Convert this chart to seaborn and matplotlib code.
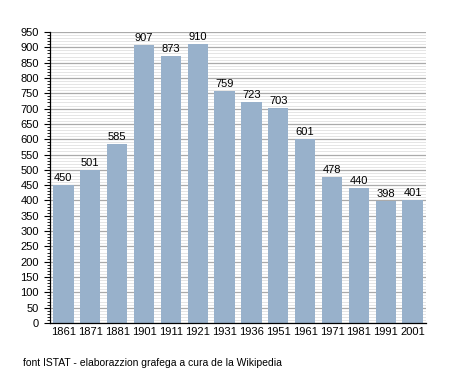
import matplotlib
matplotlib.use("Agg")
import matplotlib.pyplot as plt
import seaborn as sns
import pandas as pd
from matplotlib.ticker import MultipleLocator

sns.set_style("white")
plt.rcParams['font.family'] = ['Liberation Sans', 'DejaVu Sans']
plt.rcParams['text.color'] = 'black'
plt.rcParams['xtick.color'] = 'black'
plt.rcParams['ytick.color'] = 'black'

years = ["1861", "1871", "1881", "1901", "1911", "1921", "1931",
         "1936", "1951", "1961", "1971", "1981", "1991", "2001"]
population = [450, 501, 585, 907, 873, 910, 759, 723, 703, 601, 478, 440, 398, 401]

df = pd.DataFrame({"anno": years, "abitanti": population})

fig = plt.figure(figsize=(4.55, 3.73), dpi=100)
ax = fig.add_axes([50/455, 50/373, 376/455, 291/373])

ax.yaxis.set_major_locator(MultipleLocator(50))
ax.yaxis.set_minor_locator(MultipleLocator(10))
ax.grid(which='major', axis='y', color='#aaaaaa', lw=0.9)
ax.grid(which='minor', axis='y', color='#e0e0e0', lw=0.6)
ax.set_axisbelow(True)

sns.barplot(data=df, x="anno", y="abitanti", color="#98b1cb", saturation=1,
            width=0.76, linewidth=0, edgecolor='none', ax=ax, zorder=2)

for i, v in enumerate(population):
    ax.text(i, v + 6, str(v), ha='center', va='bottom', fontsize=8, color='black')

ax.set_ylim(0, 950)
ax.set_xlim(-0.5, len(years) - 0.5)
ax.set_xlabel("")
ax.set_ylabel("")
for s in ['top', 'right']:
    ax.spines[s].set_visible(False)
ax.spines['left'].set_linewidth(0.9)
ax.spines['left'].set_color('black')
ax.spines['bottom'].set_linewidth(0.9)
ax.spines['bottom'].set_color('black')
ax.tick_params(axis='y', which='major', length=4, width=0.8, labelsize=8, pad=4, left=True)
ax.tick_params(axis='y', which='minor', length=2, width=0.6, left=True)
ax.tick_params(axis='x', length=0, labelsize=8, pad=3)

fig.text(23/455, 1 - 363/373, "font ISTAT - elaborazzion grafega a cura de la Wikipedia",
         fontsize=7.5, ha='left', va='center', color='black')

fig.savefig("out.png", dpi=100)
